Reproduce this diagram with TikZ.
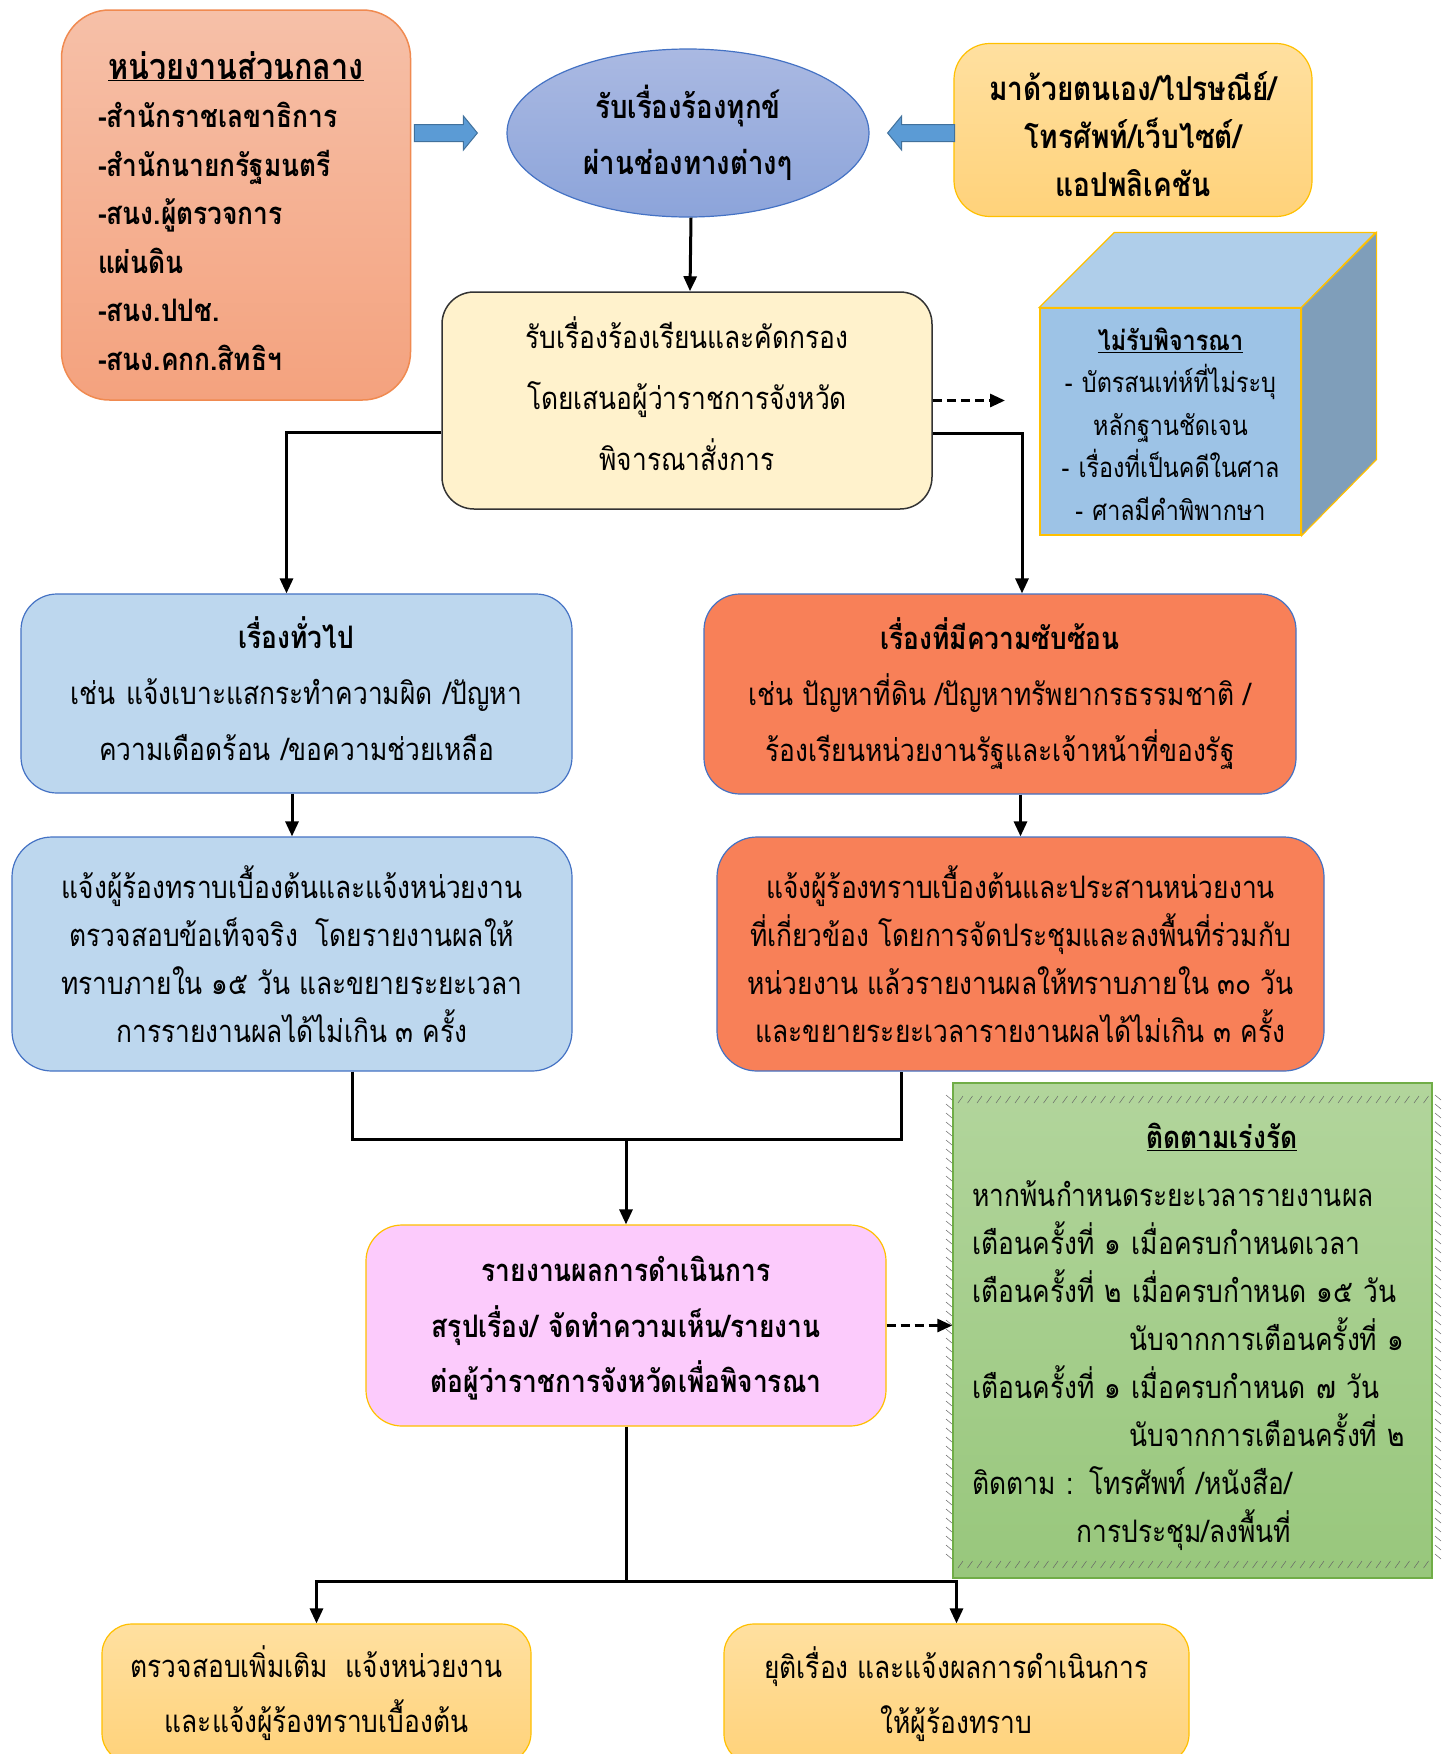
\documentclass[tikz,border=0pt]{standalone}
\usepackage{fontspec}
\newfontfamily\thaifont[Script=Thai,FakeStretch=0.85]{Loma}
\usetikzlibrary{calc}
\usetikzlibrary{shapes.geometric}
\usetikzlibrary{arrows.meta}

\definecolor{peachtop}{RGB}{246,192,168}
\definecolor{peachbot}{RGB}{244,162,126}
\definecolor{peachline}{RGB}{240,138,80}
\definecolor{ovaltop}{RGB}{170,185,226}
\definecolor{ovalbot}{RGB}{140,164,218}
\definecolor{msblue}{RGB}{68,114,196}
\definecolor{goldtop}{RGB}{255,224,160}
\definecolor{goldbot}{RGB}{255,210,122}
\definecolor{msgold}{RGB}{255,192,0}
\definecolor{cream}{RGB}{255,242,204}
\definecolor{cubefront}{RGB}{157,195,230}
\definecolor{cubetop}{RGB}{175,206,234}
\definecolor{cubeside}{RGB}{127,158,186}
\definecolor{paleblue}{RGB}{189,215,238}
\definecolor{coral}{RGB}{248,128,88}
\definecolor{pinkbox}{RGB}{252,203,252}
\definecolor{greentop}{RGB}{178,213,156}
\definecolor{greenbot}{RGB}{152,199,124}
\definecolor{msgreen}{RGB}{112,173,71}
\definecolor{arrowblue}{RGB}{91,155,213}
\definecolor{arrowline}{RGB}{65,113,156}

\newcommand{\thaiset}[2]{\thaifont\fontsize{#1}{#2}\selectfont}
\newcommand{\blkarrow}[3]{ \draw[blockarr, shift={(#1)}, xscale=#2] (0,0) -- (-14,-17) -- (-14,-8.5) -- (-#3,-8.5) -- (-#3,8.5) -- (-14,8.5) -- (-14,17) -- cycle;}

\tikzset{
  roundbox/.style={draw, rounded corners=32pt, align=center, inner sep=0pt},
  textdrop/.style={text height=0pt, text depth=#1},
  conn/.style={line width=3pt, -{Triangle[length=15pt,width=13pt]}},
  dconn/.style={conn, dash pattern=on 9pt off 5pt},
  joint/.style={line width=3pt},
  blockarr/.style={fill=arrowblue, draw=arrowline, line width=1pt},
  hatch/.style={line width=0.5pt, black!60},
}

\begin{document}
\begin{tikzpicture}[x=1pt,y=-1pt]
  \clip (0,0) rectangle (1441,1754);
  \fill[white] (0,0) rectangle (1441,1754);

  % top row
  \node[roundbox, draw=peachline, line width=1.5pt, top color=peachtop, bottom color=peachbot,
        minimum width=349pt, minimum height=390pt, rounded corners=48pt, textdrop=252pt,
        text width=276pt, align=left, font={\thaiset{31}{48.5}\bfseries}] (central) at (236,205)
    {\makebox[\hsize]{\fontsize{36}{48.5}\selectfont\underline{หน่วยงานส่วนกลาง}}\\
     -สำนักราชเลขาธิการ\\ -สำนักนายกรัฐมนตรี\\ -สนง.ผู้ตรวจการ\\ แผ่นดิน\\ -สนง.ปปช.\\ -สนง.คกก.สิทธิฯ};

  \node[ellipse, draw=msblue, line width=1.2pt, top color=ovaltop, bottom color=ovalbot,
        minimum width=362pt, minimum height=168pt, inner sep=0pt, align=center,
        font={\thaiset{32.5}{56}\bfseries}] (intake) at (688,133)
    {รับเรื่องร้องทุกข์\\ ผ่านช่องทางต่างๆ};

  \node[roundbox, draw=msgold, line width=1.2pt, top color=goldtop, bottom color=goldbot,
        minimum width=358pt, minimum height=173pt, rounded corners=36pt, text width=350pt,
        textdrop=59pt, font={\thaiset{33}{48}\bfseries}] (channels) at (1133,130)
    {มาด้วยตนเอง/ไปรษณีย์/\\ โทรศัพท์/เว็บไซต์/\\ แอปพลิเคชัน};

  \coordinate (tipA) at ($(intake.west)+(-29,0)$);
  \coordinate (tipC) at ($(intake.east)+(18,0)$);
  \blkarrow{tipA}{1}{63}
  \blkarrow{tipC}{-1}{67}

  % screening
  \node[roundbox, draw=black!80, line width=1.5pt, fill=cream,
        minimum width=490pt, minimum height=217pt, text width=480pt, textdrop=104pt,
        font={\thaiset{31}{61}}] (screen) at (687,400.5)
    {รับเรื่องร้องเรียนและคัดกรอง\\ โดยเสนอผู้ว่าราชการจังหวัด\\ พิจารณาสั่งการ};
  \draw[conn] ([xshift=3pt]intake.south) -- ([xshift=3pt]screen.north);

  % cube
  \node[draw=msgold, line width=1.2pt, fill=cubefront, minimum width=261pt, minimum height=227pt,
        inner sep=0pt, text width=255pt, textdrop=142.5pt, align=center,
        font={\thaiset{27.5}{42.5}}] (reject) at (1170.5,421.5)
    {\textbf{\underline{ไม่รับพิจารณา}}\\ - บัตรสนเท่ห์ที่ไม่ระบุ\\ หลักฐานชัดเจน\\
     - เรื่องที่เป็นคดีในศาล\\ - ศาลมีคำพิพากษา};
  \draw[draw=msgold, line width=1.2pt, fill=cubetop] (reject.north west) -- ++(75,-75) -- ++(261,0)
    -- (reject.north east) -- cycle;
  \draw[draw=msgold, line width=1.2pt, fill=cubeside] (reject.north east) -- ++(75,-75) -- ++(0,227)
    -- (reject.south east) -- cycle;
  \coordinate (nogo) at (1005,400.5);
  \draw[dconn] (screen.east) -- (nogo);

  % two kinds
  \node[roundbox, draw=msblue, line width=1.2pt, fill=paleblue,
        minimum width=551pt, minimum height=199pt, rounded corners=36pt, text width=540pt,
        textdrop=90.5pt, font={\thaiset{31}{56}}] (general) at (296.5,693.5)
    {\textbf{เรื่องทั่วไป}\\ เช่น แจ้งเบาะแสกระทำความผิด /ปัญหา\\ ความเดือดร้อน /ขอความช่วยเหลือ};
  \node[roundbox, draw=msblue, line width=1.2pt, fill=coral,
        minimum width=592pt, minimum height=200pt, rounded corners=36pt,
        font={\thaiset{31}{56}}] (complex) at (1000,694)
    {\textbf{เรื่องที่มีความซับซ้อน}\\ เช่น ปัญหาที่ดิน /ปัญหาทรัพยากรธรรมชาติ /\\ ร้องเรียนหน่วยงานรัฐและเจ้าหน้าที่ของรัฐ};
  \draw[conn] ([yshift=-32pt]screen.west) -| ([xshift=-10pt]general.north);
  \draw[conn] ([yshift=-33pt]screen.east) -| ([xshift=22pt]complex.north);

  \node[roundbox, draw=msblue, line width=1.2pt, fill=paleblue,
        minimum width=560pt, minimum height=234pt, rounded corners=40pt,
        font={\thaiset{31}{48}}] (generalact) at (292,954)
    {แจ้งผู้ร้องทราบเบื้องต้นและแจ้งหน่วยงาน\\ ตรวจสอบข้อเท็จจริง\ \ โดยรายงานผลให้\\
     ทราบภายใน ๑๕ วัน และขยายระยะเวลา\\ การรายงานผลได้ไม่เกิน ๓ ครั้ง};
  \node[roundbox, draw=msblue, line width=1.2pt, fill=coral,
        minimum width=607pt, minimum height=234pt, rounded corners=40pt,
        font={\thaiset{31}{48}}] (complexact) at (1020.5,954)
    {แจ้งผู้ร้องทราบเบื้องต้นและประสานหน่วยงาน\\ ที่เกี่ยวข้อง โดยการจัดประชุมและลงพื้นที่ร่วมกับ\\
     หน่วยงาน แล้วรายงานผลให้ทราบภายใน ๓๐ วัน\\ และขยายระยะเวลารายงานผลได้ไม่เกิน ๓ ครั้ง};
  \draw[conn] (general.south -| generalact.north) -- (generalact.north);
  \draw[conn] (complex.south -| complexact.north) -- (complexact.north);

  % report
  \node[roundbox, draw=msgold, line width=1.2pt, fill=pinkbox,
        minimum width=520pt, minimum height=201pt, rounded corners=36pt, text width=510pt,
        textdrop=88pt, font={\thaiset{31}{55.5}\bfseries}] (report) at (626,1325.5)
    {รายงานผลการดำเนินการ\\ สรุปเรื่อง/ จัดทำความเห็น/รายงาน\\ ต่อผู้ว่าราชการจังหวัดเพื่อพิจารณา};
  \coordinate (merge) at (626,1139);
  \draw[joint] ([xshift=60pt]generalact.south) |- (merge) -| ([xshift=-119pt]complexact.south);
  \draw[conn] (merge) -- (report.north);

  % follow up
  \node[draw=msgreen, line width=1.5pt, top color=greentop, bottom color=greenbot,
        minimum width=479pt, minimum height=495pt, inner sep=0pt, textdrop=364.5pt,
        text width=440pt, align=left, font={\thaiset{31}{48}}] (followup) at (1192.5,1330.5)
    {\hspace*{174pt}\textbf{\underline{ติดตามเร่งรัด}}\\[10pt]
     หากพ้นกำหนดระยะเวลารายงานผล\\
     เตือนครั้งที่ ๑ เมื่อครบกำหนดเวลา\\
     เตือนครั้งที่ ๒ เมื่อครบกำหนด ๑๕ วัน\\
     \hspace*{157pt}นับจากการเตือนครั้งที่ ๑\\
     เตือนครั้งที่ ๑ เมื่อครบกำหนด ๗ วัน\\
     \hspace*{157pt}นับจากการเตือนครั้งที่ ๒\\
     ติดตาม : โทรศัพท์ /หนังสือ/\\
     \hspace*{104pt}การประชุม/ลงพื้นที่};
  \foreach \hx in {958,967.5,...,1430} {
    \draw[hatch] (\hx,1103) -- ++(5,-7);
    \draw[hatch] (\hx,1568) -- ++(5,-7);
  }
  \foreach \hy in {1095,1104,...,1562} {
    \draw[hatch] (946,\hy) -- ++(6,5);
    \draw[hatch] (1435,\hy) -- ++(6,5);
  }
  \draw[dconn] (report.east) -- (report.east -| followup.west);

  % outcomes
  \node[roundbox, draw=msgold, line width=1.2pt, top color=goldtop, bottom color=goldbot,
        minimum width=429pt, minimum height=139pt, rounded corners=30pt,
        font={\thaiset{31}{55}}] (recheck) at (316.5,1693.5)
    {ตรวจสอบเพิ่มเติม\ \ แจ้งหน่วยงาน\\ และแจ้งผู้ร้องทราบเบื้องต้น};
  \node[roundbox, draw=msgold, line width=1.2pt, top color=goldtop, bottom color=goldbot,
        minimum width=465pt, minimum height=140pt, rounded corners=30pt,
        font={\thaiset{31}{55}}] (closecase) at (956.5,1694)
    {ยุติเรื่อง และแจ้งผลการดำเนินการ\\ ให้ผู้ร้องทราบ};
  \coordinate (split) at (626,1581);
  \draw[joint] (report.south) -- (split);
  \draw[conn] (split) -| (recheck.north);
  \draw[conn] (split) -| (closecase.north);
\end{tikzpicture}
\end{document}
